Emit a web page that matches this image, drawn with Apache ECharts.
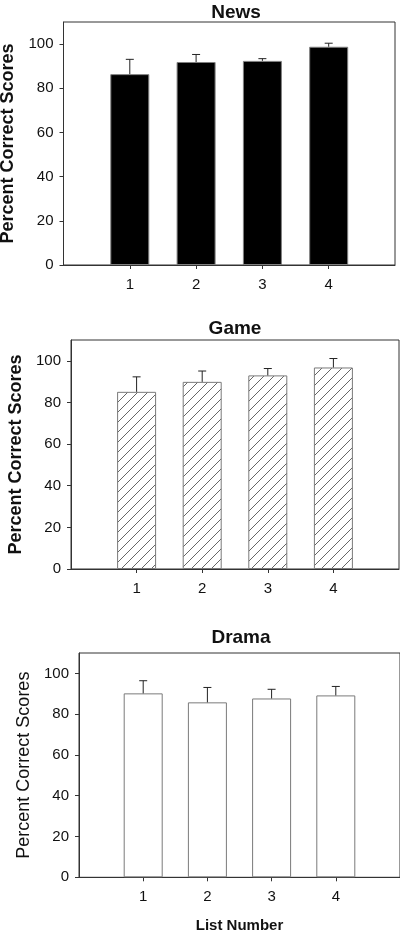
<!DOCTYPE html>
<html>
<head>
<meta charset="utf-8">
<script src="https://cdn.jsdelivr.net/npm/echarts@6/dist/echarts.min.js"></script>
<style>
html,body{margin:0;padding:0;background:#fff;}
#chart{width:400px;height:932px;}
</style>
</head>
<body>
<div id="chart"></div>
<script>
// ---- data ----
const listNumbers = [1, 2, 3, 4];
const yTicks = [0, 20, 40, 60, 80, 100];
const panelTitles = ['News', 'Game', 'Drama'];
const newsMeans = [86.4, 91.9, 92.4, 98.8];
const newsErrors = [6.7, 3.4, 1.0, 1.6];
const gameMeans = [85.1, 89.9, 93.0, 96.8];
const gameErrors = [7.2, 5.2, 3.3, 4.3];
const dramaMeans = [90.2, 85.8, 87.7, 89.2];
const dramaErrors = [6.2, 7.3, 4.5, 4.4];
const yAxisName = 'Percent Correct Scores';
const xAxisName = 'List Number';

// ---- hatch pattern ----
function makeHatch() {
  const c = document.createElement('canvas');
  c.width = 10; c.height = 10;
  const g = c.getContext('2d');
  g.fillStyle = '#fff';
  g.fillRect(0, 0, 10, 10);
  g.strokeStyle = '#555';
  g.lineWidth = 0.9;
  g.beginPath();
  g.moveTo(-1, 11); g.lineTo(11, -1);
  g.moveTo(-6, 6); g.lineTo(6, -6);
  g.moveTo(4, 16); g.lineTo(16, 4);
  g.stroke();
  return c;
}

const FONT = 'Liberation Sans, Arial, sans-serif';
const axisColor = '#333';

const grids = [
  { left: 63.5, top: 22, width: 331.5, height: 243 },
  { left: 71, top: 340, width: 328, height: 229 },
  { left: 79, top: 653, width: 321, height: 224.3 }
];
const nameGaps = [46, 43, 43];
const nameWeights = ['bold', 'bold', 'normal'];
const titleTops = [-2, 314, 623];
const titleLefts = [231, 230, 236];

const means = [newsMeans, gameMeans, dramaMeans];
const errs = [newsErrors, gameErrors, dramaErrors];
const barStyles = [
  { color: '#000', borderColor: '#808080', borderWidth: 1 },
  { color: { image: makeHatch(), repeat: 'repeat' }, borderColor: '#7a7a7a', borderWidth: 1 },
  { color: '#fff', borderColor: '#7a7a7a', borderWidth: 1 }
];

const option = {
  animation: false,
  backgroundColor: '#fff',
  title: panelTitles.map((t, i) => ({
    text: t, left: titleLefts[i], top: titleTops[i], textAlign: 'center',
    textStyle: { fontFamily: FONT, fontSize: 19, fontWeight: 'bold', color: '#111' }
  })),
  grid: grids.map(g => Object.assign({ show: true, borderColor: axisColor, borderWidth: 1, backgroundColor: 'transparent', containLabel: false, outerBoundsMode: 'none' }, g)),
  xAxis: grids.map((g, i) => ({
    type: 'value', gridIndex: i, min: 0, max: 5, interval: 1,
    axisLine: { show: true, lineStyle: { color: axisColor, width: 1 } },
    axisTick: { show: true, length: 4, lineStyle: { color: axisColor }, customValues: listNumbers },
    axisLabel: { customValues: listNumbers, margin: 12, fontFamily: FONT, fontSize: 15, color: '#111' },
    splitLine: { show: false },
    name: i === 2 ? xAxisName : '',
    nameLocation: 'middle', nameGap: 41,
    nameTextStyle: { fontFamily: FONT, fontSize: 15, fontWeight: 'bold', color: '#111' }
  })),
  yAxis: grids.map((g, i) => ({
    type: 'value', gridIndex: i, min: 0, max: 110, interval: 20,
    axisLine: { show: true, lineStyle: { color: axisColor, width: 1 } },
    axisTick: { show: true, length: 4, lineStyle: { color: axisColor }, customValues: yTicks },
    axisLabel: { customValues: yTicks, margin: 10, fontFamily: FONT, fontSize: 15, color: '#111' },
    splitLine: { show: false },
    name: yAxisName, nameLocation: 'middle', nameGap: nameGaps[i], nameRotate: 90,
    nameTextStyle: { fontFamily: FONT, fontSize: 18, fontWeight: nameWeights[i], color: '#111' }
  })),
  series: []
};

means.forEach((m, i) => {
  option.series.push({
    type: 'bar', xAxisIndex: i, yAxisIndex: i, barWidth: 39,
    data: listNumbers.map((x, k) => [x, m[k]]),
    itemStyle: barStyles[i],
    z: 2
  });
  option.series.push({
    type: 'custom', xAxisIndex: i, yAxisIndex: i, z: 3,
    data: listNumbers.map((x, k) => [x, m[k], errs[i][k]]),
    renderItem: function (params, api) {
      const x = api.value(0), y = api.value(1), e = api.value(2);
      const p0 = api.coord([x, y]);
      const p1 = api.coord([x, y + e]);
      const w = 4;
      return {
        type: 'group',
        children: [
          { type: 'line', shape: { x1: p0[0], y1: p0[1], x2: p1[0], y2: p1[1] }, style: { stroke: '#222', lineWidth: 1 } },
          { type: 'line', shape: { x1: p1[0] - w, y1: p1[1], x2: p1[0] + w, y2: p1[1] }, style: { stroke: '#222', lineWidth: 1 } }
        ]
      };
    }
  });
});

const chart = echarts.init(document.getElementById('chart'), null, { renderer: 'canvas' });
chart.setOption(option);
</script>
</body>
</html>
